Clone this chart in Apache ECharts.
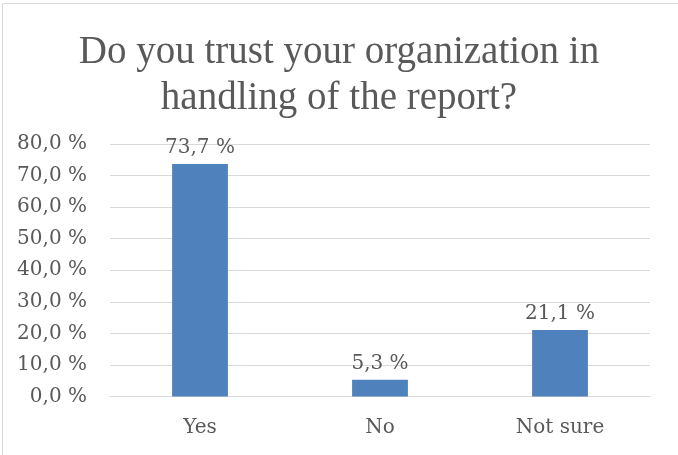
<!DOCTYPE html>
<html>
<head>
<meta charset="utf-8">
<script src="https://cdn.jsdelivr.net/npm/echarts@6/dist/echarts.min.js"></script>
<style>
  html, body { margin: 0; padding: 0; background: #ffffff; }
  #chart { width: 678px; height: 455px; }
</style>
</head>
<body>
<div id="chart"></div>
<script>
// Survey answers and their shares (percent)
const categories = ['Yes', 'No', 'Not sure'];
const shares = [73.7, 5.3, 21.1];
const titleLines = ['Do you trust your organization in', 'handling of the report?'];

const textColor = '#595959';
const labelFont = 'DejaVu Serif';
const fmtPct = v => v.toFixed(1).replace('.', ',') + ' %';

const chart = echarts.init(document.getElementById('chart'), null, { renderer: 'canvas' });
chart.setOption({
  animation: false,
  backgroundColor: '#ffffff',
  title: {
    text: titleLines.join('\n'),
    left: 'center',
    top: 25,
    textStyle: {
      fontFamily: 'Liberation Serif',
      fontSize: 39,
      fontWeight: 'normal',
      color: textColor,
      lineHeight: 46
    }
  },
  graphic: [{
    type: 'rect',
    shape: { x: 2.5, y: 3.5, width: 700, height: 500 },
    style: { fill: 'none', stroke: '#D9D9D9', lineWidth: 1 },
    silent: true
  }],
  grid: { left: 110, right: 28, top: 144, bottom: 58.5 },
  xAxis: {
    type: 'category',
    data: categories,
    axisLine: { show: true, lineStyle: { color: '#D9D9D9', width: 1 } },
    axisTick: { show: false },
    axisLabel: { color: textColor, fontFamily: labelFont, fontSize: 20, margin: 21 }
  },
  yAxis: {
    type: 'value',
    min: 0,
    max: 80,
    interval: 10,
    axisLine: { show: false },
    axisTick: { show: false },
    splitLine: { lineStyle: { color: '#D9D9D9', width: 1 } },
    axisLabel: {
      color: textColor,
      fontFamily: labelFont,
      fontSize: 20,
      margin: 23,
      formatter: v => fmtPct(v)
    }
  },
  series: [{
    type: 'bar',
    data: shares,
    barWidth: '31%',
    itemStyle: { color: '#4F81BD' },
    label: {
      show: true,
      position: 'top',
      distance: 6,
      color: textColor,
      fontFamily: labelFont,
      fontSize: 20,
      formatter: p => fmtPct(p.value)
    }
  }]
});
</script>
</body>
</html>
